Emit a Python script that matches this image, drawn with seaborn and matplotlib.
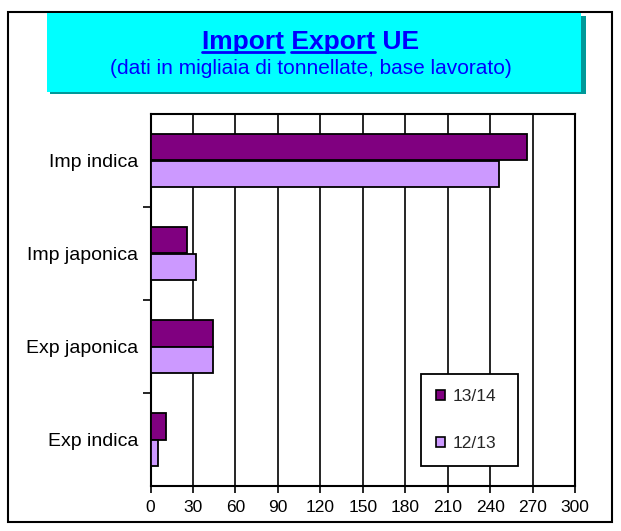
import matplotlib.pyplot as plt
import pandas as pd
import seaborn as sns
from matplotlib.patches import Rectangle
from matplotlib.lines import Line2D

categorie = ["Imp indica", "Imp japonica", "Exp japonica", "Exp indica"]
campagne = ["13/14", "12/13"]
val_1314 = [266, 26, 44, 11]
val_1213 = [246, 32, 44, 5.5]
xticks = list(range(0, 301, 30))

df = pd.DataFrame({
    "Categoria": categorie * 2,
    "Campagna": [campagne[0]] * 4 + [campagne[1]] * 4,
    "Valore": val_1314 + val_1213,
})

sns.set_style("white")
plt.rcParams["font.family"] = ["Liberation Sans", "DejaVu Sans"]

W, H = 621, 531
fig = plt.figure(figsize=(W / 100, H / 100), dpi=100)
ax = fig.add_axes([150.5 / W, 1 - 486 / H, (575 - 150.5) / W, (486 - 114) / H])

sns.barplot(data=df, y="Categoria", x="Valore", hue="Campagna",
            order=categorie, hue_order=campagne, saturation=1,
            palette=["#800080", "#CC99FF"], width=0.58, gap=0,
            edgecolor="black", linewidth=1.3, ax=ax, zorder=3)

ax.set_xlim(0, 300)
ax.set_ylim(3.5, -0.5)
ax.set_xticks(xticks)
ax.set_xticklabels([str(t) for t in xticks], fontsize=12.5)
ax.tick_params(axis="x", bottom=True, direction="out", length=5, width=1.2,
               color="black", labelcolor="black", pad=5)
ax.tick_params(axis="y", which="major", left=True, length=0, labelsize=14,
               labelcolor="black", pad=9)
ax.set_yticks([0.5, 1.5, 2.5], minor=True)
ax.tick_params(axis="y", which="minor", left=True, direction="out", length=6,
               width=1.2, color="black")
ax.grid(axis="x", color="black", linewidth=1.2, zorder=0)
ax.set_axisbelow(True)
for s in ax.spines.values():
    s.set_color("black")
    s.set_linewidth(1.5)
ax.set_xlabel("")
ax.set_ylabel("")

# legenda
leg = ax.legend(loc="lower left", bbox_to_anchor=((421 - 150.5) / 424.5, (486 - 466) / 372,
                (518 - 421) / 424.5, (466 - 373) / 372), mode="expand",
                frameon=True, fancybox=False, framealpha=1, fontsize=12.5,
                handlelength=0.55, handleheight=0.55, labelspacing=1.85, borderpad=0.85,
                handletextpad=0.45, borderaxespad=0)
leg.get_frame().set_edgecolor("black")
leg.get_frame().set_linewidth(1.3)
for p in leg.get_patches():
    p.set_edgecolor("black")
    p.set_linewidth(1.2)

# cornice esterna
fig.patches.append(Rectangle((8 / W, 1 - 522 / H), (612 - 8) / W, (522 - 12) / H,
                             transform=fig.transFigure, fill=False, edgecolor="black", linewidth=1.5))

# riquadro del titolo con ombra
fig.patches.append(Rectangle((50 / W, 1 - 94 / H), (583 - 47) / W, (94 - 16) / H,
                             transform=fig.transFigure, facecolor="#009999", edgecolor="none"))
fig.patches.append(Rectangle((47 / W, 1 - 92 / H), (581 - 47) / W, (92 - 13) / H,
                             transform=fig.transFigure, facecolor="#00FFFF", edgecolor="none"))

t = fig.text(0.5, 1 - 42 / H, "Import Export UE", ha="center", va="center",
             fontsize=19, fontweight="bold", color="#0000FF")
fig.text(0.5, 1 - 68 / H, "(dati in migliaia di tonnellate, base lavorato)", ha="center",
         va="center", fontsize=15, color="#0000FF")

# sottolineatura di "Import" ed "Export"
fig.canvas.draw()
r = fig.canvas.get_renderer()
bb = t.get_window_extent(r)


def larghezza(s):
    tmp = fig.text(0, 0, s, fontsize=19, fontweight="bold")
    w = tmp.get_window_extent(r).width
    tmp.remove()
    return w


x0 = bb.x0
y_line = bb.y0 + 2
for a, b in [("", "Import"), ("Import ", "Import Export")]:
    xa = x0 + (larghezza(a + "I") - larghezza("I") if a else 0)
    xb = x0 + larghezza(b)
    fig.lines.append(Line2D([xa / W, xb / W], [y_line / H, y_line / H],
                            transform=fig.transFigure, color="#0000FF", linewidth=2))

fig.savefig("out.png", dpi=100)
